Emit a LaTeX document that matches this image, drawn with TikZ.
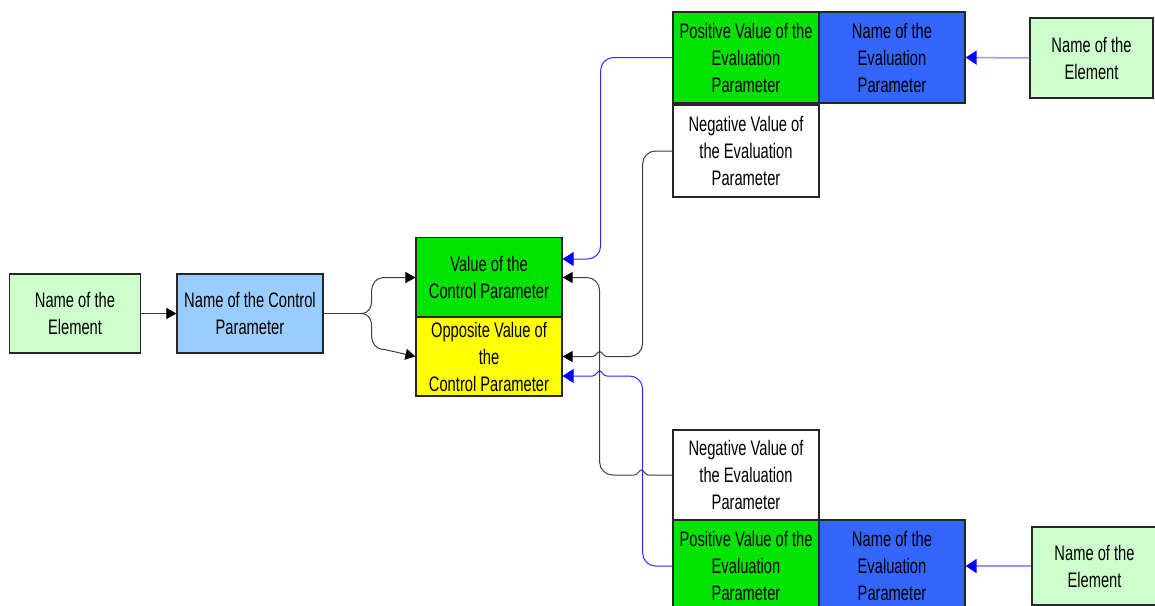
\documentclass[tikz,border=0pt]{standalone}
\usepackage{fontspec}
\setmainfont[FakeStretch=0.70]{Liberation Sans}
\usetikzlibrary{arrows.meta,calc}
\definecolor{lgreen}{RGB}{204,255,204}
\definecolor{lblue}{RGB}{153,204,255}
\definecolor{bgreen}{RGB}{0,228,0}
\definecolor{dblue}{RGB}{51,102,255}
\definecolor{byellow}{RGB}{255,255,0}
\definecolor{conblack}{RGB}{60,60,60}
\definecolor{conblue}{RGB}{40,40,255}
\definecolor{arrblue}{RGB}{150,150,255}
\tikzset{
  box/.style={draw=black!85, line width=1.2pt, rectangle, inner sep=0pt, align=center,
    font=\fontsize{21}{27}\selectfont, text=black},
  blk/.style={draw=conblack, line width=1pt},
  blu/.style={draw=conblue, line width=1pt},
  blktip/.style={-{Triangle[length=10pt,width=11pt,color=black]}, blk},
  blutip/.style={-{Triangle[length=11pt,width=14pt,color=blue]}, blu},
  rc/.style={rounded corners=13pt},
}
\newcommand{\hopleft}{.. controls +(-3,0) and +(2,0) .. ++(-7,-5) .. controls +(-2,0) and +(3,0) .. ++(-7,5)}
\begin{document}
\begin{tikzpicture}[x=1pt,y=-1pt]
\clip (0,0) rectangle (1155,605);
\fill[white] (0,0) rectangle (1155,605);
% nodes
\node[box, fill=lgreen, minimum width=131, minimum height=79] (elL) at (75,313.5) {Name of the\\Element};
\node[box, fill=lblue, minimum width=146, minimum height=79] (ctrl) at (250,313.5) {Name of the Control\\Parameter};
\node[box, fill=bgreen, minimum width=146, minimum height=80] (valC) at (489,277.5) {Value of the\\Control Parameter};
\node[box, fill=byellow, minimum width=146, minimum height=79] (oppC) at (489,356.5) {Opposite Value of\\the\\Control Parameter};
\node[box, fill=bgreen, minimum width=146, minimum height=91] (posT) at (746,57.5) {Positive Value of the\\Evaluation\\Parameter};
\node[box, fill=dblue, minimum width=146, minimum height=91] (nameT) at (892,57.5) {Name of the\\Evaluation\\Parameter};
\node[box, fill=white, minimum width=146, minimum height=92] (negT) at (746,151) {Negative Value of\\the Evaluation\\Parameter};
\node[box, fill=lgreen, minimum width=123, minimum height=80] (elT) at (1091.5,58) {Name of the\\Element};
\node[box, fill=white, minimum width=146, minimum height=90] (negB) at (746,475) {Negative Value of\\the Evaluation\\Parameter};
\node[box, fill=bgreen, minimum width=146, minimum height=92] (posB) at (746,566) {Positive Value of the\\Evaluation\\Parameter};
\node[box, fill=dblue, minimum width=146, minimum height=92] (nameB) at (892,566) {Name of the\\Evaluation\\Parameter};
\node[box, fill=lgreen, minimum width=125, minimum height=78] (elB) at (1094.5,566) {Name of the\\Element};
% left chain
\draw[blktip] (elL.east) -- (ctrl.west);
\coordinate (br) at ($(ctrl.east)+(37,0)$);
\draw[blk] (ctrl.east) -- (br);
\draw[blktip] (br) .. controls +(9,0) and +(0,6) .. ++(11,-13) -- ++(0,-10) .. controls +(0,-6) and +(-9,0) .. ++(13,-13) -- (valC.west);
\draw[blktip] (br) .. controls +(9,0) and +(0,-6) .. ++(11,13) -- ++(0,10) .. controls +(0,6) and +(-9,0) .. ++(13,13) -- (oppC.west);
% elements to evaluation names
\draw[-{Triangle[length=11pt,width=14pt,color=blue]}, draw=arrblue, line width=1.5pt] (elT.west) -- (nameT.east);
\draw[-{Triangle[length=11pt,width=14pt,color=blue]}, draw=arrblue, line width=1.5pt] (elB.west) -- (nameB.east);
% top positive -> value
\draw[blutip, rc] (posT.west) -| ($(valC.east)+(38,-18.5)$) -- ($(valC.east)+(0,-18.5)$);
% top negative -> opposite
\draw[blk, rc] (negT.west) -| ($(oppC.east)+(80,0)$) -- ($(oppC.east)+(44,0)$);
\draw[blktip] ($(oppC.east)+(44,0)$) \hopleft -- (oppC.east);
% bottom negative -> value
\draw[blk] (negB.west) -- ($(negB.west)+(-24,0)$) \hopleft;
\draw[blktip, rc] ($(negB.west)+(-38,0)$) -| ($(valC.east)+(37,0)$) -- (valC.east);
% bottom positive -> opposite
\draw[blu, rc] (posB.west) -| ($(oppC.east)+(80,19.5)$) -- ($(oppC.east)+(44,19.5)$);
\draw[blutip] ($(oppC.east)+(44,19.5)$) \hopleft -- ($(oppC.east)+(0,19.5)$);
\end{tikzpicture}
\end{document}
